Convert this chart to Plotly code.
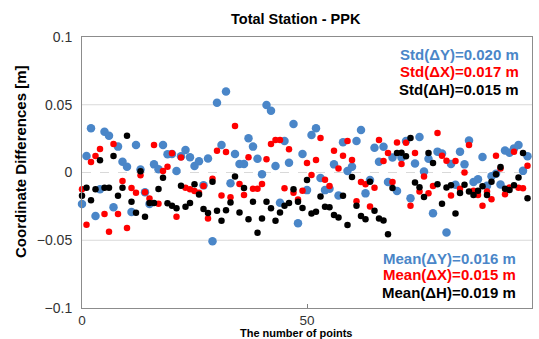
import plotly.graph_objects as go

# x positions: point index
points = list(range(0, 100))

dY = [
    -0.0232, 0.0122, 0.0326, -0.0321, -0.0124, 0.0301, 0.0272, -0.0257, 0.0191, 0.0080,
    0.0043, -0.0292, 0.0203, 0.0022, -0.0146, -0.0232, 0.0060, 0.0024, 0.0203, 0.0135,
    0.0137, 0.0011, 0.0120, 0.0166, 0.0112, 0.0048, 0.0083, -0.0095, 0.0103, -0.0508,
    0.0515, 0.0203, 0.0597, -0.0080, 0.0137, 0.0063, 0.0063, 0.0252, 0.0191, 0.0102,
    -0.0013, 0.0498, 0.0456, 0.0048, -0.0223, 0.0232, 0.0072, 0.0358, -0.0375, 0.0137,
    -0.0130, 0.0277, 0.0326, -0.0040, -0.0130, -0.0120, 0.0060, -0.0170, 0.0223, 0.0011,
    0.0043, 0.0232, 0.0314, -0.0154, -0.0055, 0.0183, 0.0080, 0.0190, -0.0070, 0.0111,
    -0.0137, 0.0111, 0.0233, -0.0190, 0.0066, 0.0262, 0.0007, 0.0102, -0.0301, 0.0154,
    0.0140, -0.0443, 0.0062, -0.0090, 0.0154, 0.0060, 0.0237, -0.0070, -0.0050, 0.0115,
    -0.0097, -0.0027, -0.0010, -0.0088, 0.0163, 0.0145, 0.0178, 0.0203, 0.0012, 0.0120,
]

dX = [
    -0.0124, -0.0385, 0.0077, 0.0122, 0.0173, -0.0306, -0.0437, 0.0210, -0.0306, -0.0063,
    -0.0410, -0.0114, -0.0149, -0.0021, -0.0146, -0.0191, 0.0203, -0.0230, 0.0011, 0.0043,
    0.0142, -0.0326, 0.0110, -0.0112, -0.0124, -0.0137, -0.0149, -0.0100, -0.0340, -0.0047,
    0.0160, -0.0170, 0.0152, -0.0183, 0.0343, -0.0085, -0.0166, 0.0112, -0.0120, -0.0120,
    -0.0085, 0.0097, 0.0210, 0.0240, 0.0240, -0.0117, 0.0171, -0.0149, -0.0200, -0.0134,
    0.0070, -0.0018, 0.0092, 0.0255, -0.0053, -0.0100, 0.0160, 0.0030, 0.0123, 0.0232,
    0.0092, -0.0212, -0.0070, -0.0086, -0.0251, -0.0112, 0.0240, 0.0085, 0.0144, -0.0070,
    0.0222, 0.0062, 0.0220, -0.0246, 0.0144, -0.0141, -0.0030, -0.0154, -0.0100, 0.0292,
    0.0123, 0.0086, -0.0170, 0.0085, -0.0120, 0.0000, 0.0203, -0.0135, -0.0166, -0.0246,
    -0.0140, -0.0197, 0.0123, 0.0030, -0.0160, -0.0110, 0.0154, -0.0112, -0.0117, 0.0049,
]

dH = [
    -0.0171, -0.0112, -0.0205, -0.0124, 0.0090, -0.0112, -0.0112, 0.0122, -0.0171, -0.0112,
    0.0272, -0.0215, -0.0297, 0.0009, -0.0326, -0.0225, -0.0225, -0.0122, -0.0038, -0.0227,
    -0.0245, -0.0264, -0.0097, -0.0252, -0.0225, -0.0086, -0.0163, -0.0270, -0.0298, -0.0068,
    -0.0283, -0.0356, -0.0278, -0.0222, -0.0030, -0.0295, -0.0115, -0.0345, -0.0215, -0.0445,
    -0.0340, -0.0215, -0.0264, -0.0356, -0.0295, -0.0246, -0.0225, -0.0123, -0.0215, -0.0262,
    -0.0055, -0.0303, -0.0290, -0.0178, -0.0252, -0.0257, -0.0314, -0.0332, -0.0172, -0.0387,
    -0.0033, -0.0246, -0.0321, -0.0345, -0.0068, -0.0283, -0.0340, -0.0355, -0.0455, -0.0115,
    0.0144, 0.0145, 0.0120, 0.0255, -0.0073, -0.0108, -0.0180, 0.0144, 0.0070, -0.0086,
    -0.0230, -0.0111, -0.0094, -0.0303, -0.0152, -0.0090, -0.0141, -0.0166, -0.0135, -0.0101,
    -0.0166, -0.0068, -0.0012, 0.0040, -0.0120, -0.0130, -0.0094, -0.0037, 0.0144, -0.0190,
]

y_ticks = [-0.1, -0.05, 0, 0.05, 0.1]
y_ticktext = ["\u22120.1", "\u22120.05", "0", "0.05", "0.1"]
x_ticks = [0, 50, 100]
solid_grid = [-0.05, 0.05]
dashed_grid = [0]

std_labels = ["Std(\u0394Y)=0.020 m", "Std(\u0394X)=0.017 m", "Std(\u0394H)=0.015 m"]
mean_labels = ["Mean(\u0394Y)=0.016 m", "Mean(\u0394X)=0.015 m", "Mean(\u0394H)=0.019 m"]

BLUE = "#4A86C8"
RED = "#FF0000"
BLACK = "#000000"
label_colors = [BLUE, RED, BLACK]
FONT = "Liberation Sans, Arial, sans-serif"

fig = go.Figure()
fig.add_trace(go.Scatter(x=points, y=dY, mode="markers", cliponaxis=False,
                         marker=dict(size=8.5, color=BLUE), name="dY"))
fig.add_trace(go.Scatter(x=points, y=dX, mode="markers", cliponaxis=False,
                         marker=dict(size=6.5, color=RED), name="dX"))
fig.add_trace(go.Scatter(x=points, y=dH, mode="markers", cliponaxis=False,
                         marker=dict(size=6.5, color=BLACK), name="dH"))

shapes = []
for g in solid_grid:
    shapes.append(dict(type="line", xref="paper", x0=0, x1=1, yref="y", y0=g, y1=g,
                       line=dict(color="#D9D9D9", width=1), layer="below"))
for g in dashed_grid:
    shapes.append(dict(type="line", xref="paper", x0=0, x1=1, yref="y", y0=g, y1=g,
                       line=dict(color="#D9D9D9", width=1, dash="dash"), layer="below"))

annotations = []
std_y = [0.934, 0.871, 0.808]
mean_y = [0.181, 0.122, 0.059]
for txt, c, yy in zip(std_labels, label_colors, std_y):
    annotations.append(dict(text="<b>%s</b>" % txt, xref="paper", yref="paper",
                            x=0.975, y=yy, xanchor="right", yanchor="middle",
                            showarrow=False, font=dict(family=FONT, size=15, color=c)))
for txt, c, yy in zip(mean_labels, label_colors, mean_y):
    annotations.append(dict(text="<b>%s</b>" % txt, xref="paper", yref="paper",
                            x=0.968, y=yy, xanchor="right", yanchor="middle",
                            showarrow=False, font=dict(family=FONT, size=15, color=c)))

# titles
annotations.append(dict(text="<b>Total Station - PPK</b>", xref="paper", yref="paper",
                        x=(296 - 82) / 450, y=(308 - 19) / 271, xanchor="center", yanchor="middle",
                        showarrow=False, font=dict(family=FONT, size=14.5, color="#000")))
annotations.append(dict(text="<b>The number of points</b>", xref="paper", yref="paper",
                        x=(296 - 82) / 450, y=(308 - 333) / 271, xanchor="center", yanchor="middle",
                        showarrow=False, font=dict(family=FONT, size=11, color="#000")))
annotations.append(dict(text="<b>Coordinate Differences [m]</b>", xref="paper", yref="paper",
                        x=(20 - 82) / 450, y=(308 - 162) / 271, xanchor="center", yanchor="middle",
                        textangle=-90, showarrow=False,
                        font=dict(family=FONT, size=15, color="#000")))

fig.update_layout(
    width=539, height=339, autosize=False,
    margin=dict(l=82, r=7, t=37, b=31, pad=0),
    paper_bgcolor="white", plot_bgcolor="white",
    showlegend=False,
    font=dict(family=FONT, size=13.5, color="#404040"),
    shapes=shapes, annotations=annotations,
    xaxis=dict(range=[0, 100], tickvals=x_ticks, ticks="inside", ticklen=4,
               tickcolor="#808080", showgrid=False, zeroline=False,
               showline=True, linecolor="#8C8C8C", linewidth=1, mirror=True,
               ticklabelstandoff=0,
               tickfont=dict(size=13.5, color="#333333")),
    yaxis=dict(range=[-0.1, 0.1], tickvals=y_ticks, ticktext=y_ticktext, ticks="",
               showgrid=False, zeroline=False, showline=True, linecolor="#8C8C8C",
               linewidth=1, mirror=True, ticklabelstandoff=6,
               tickfont=dict(size=14, color="#333333")),
)

fig.write_html("out.html")
